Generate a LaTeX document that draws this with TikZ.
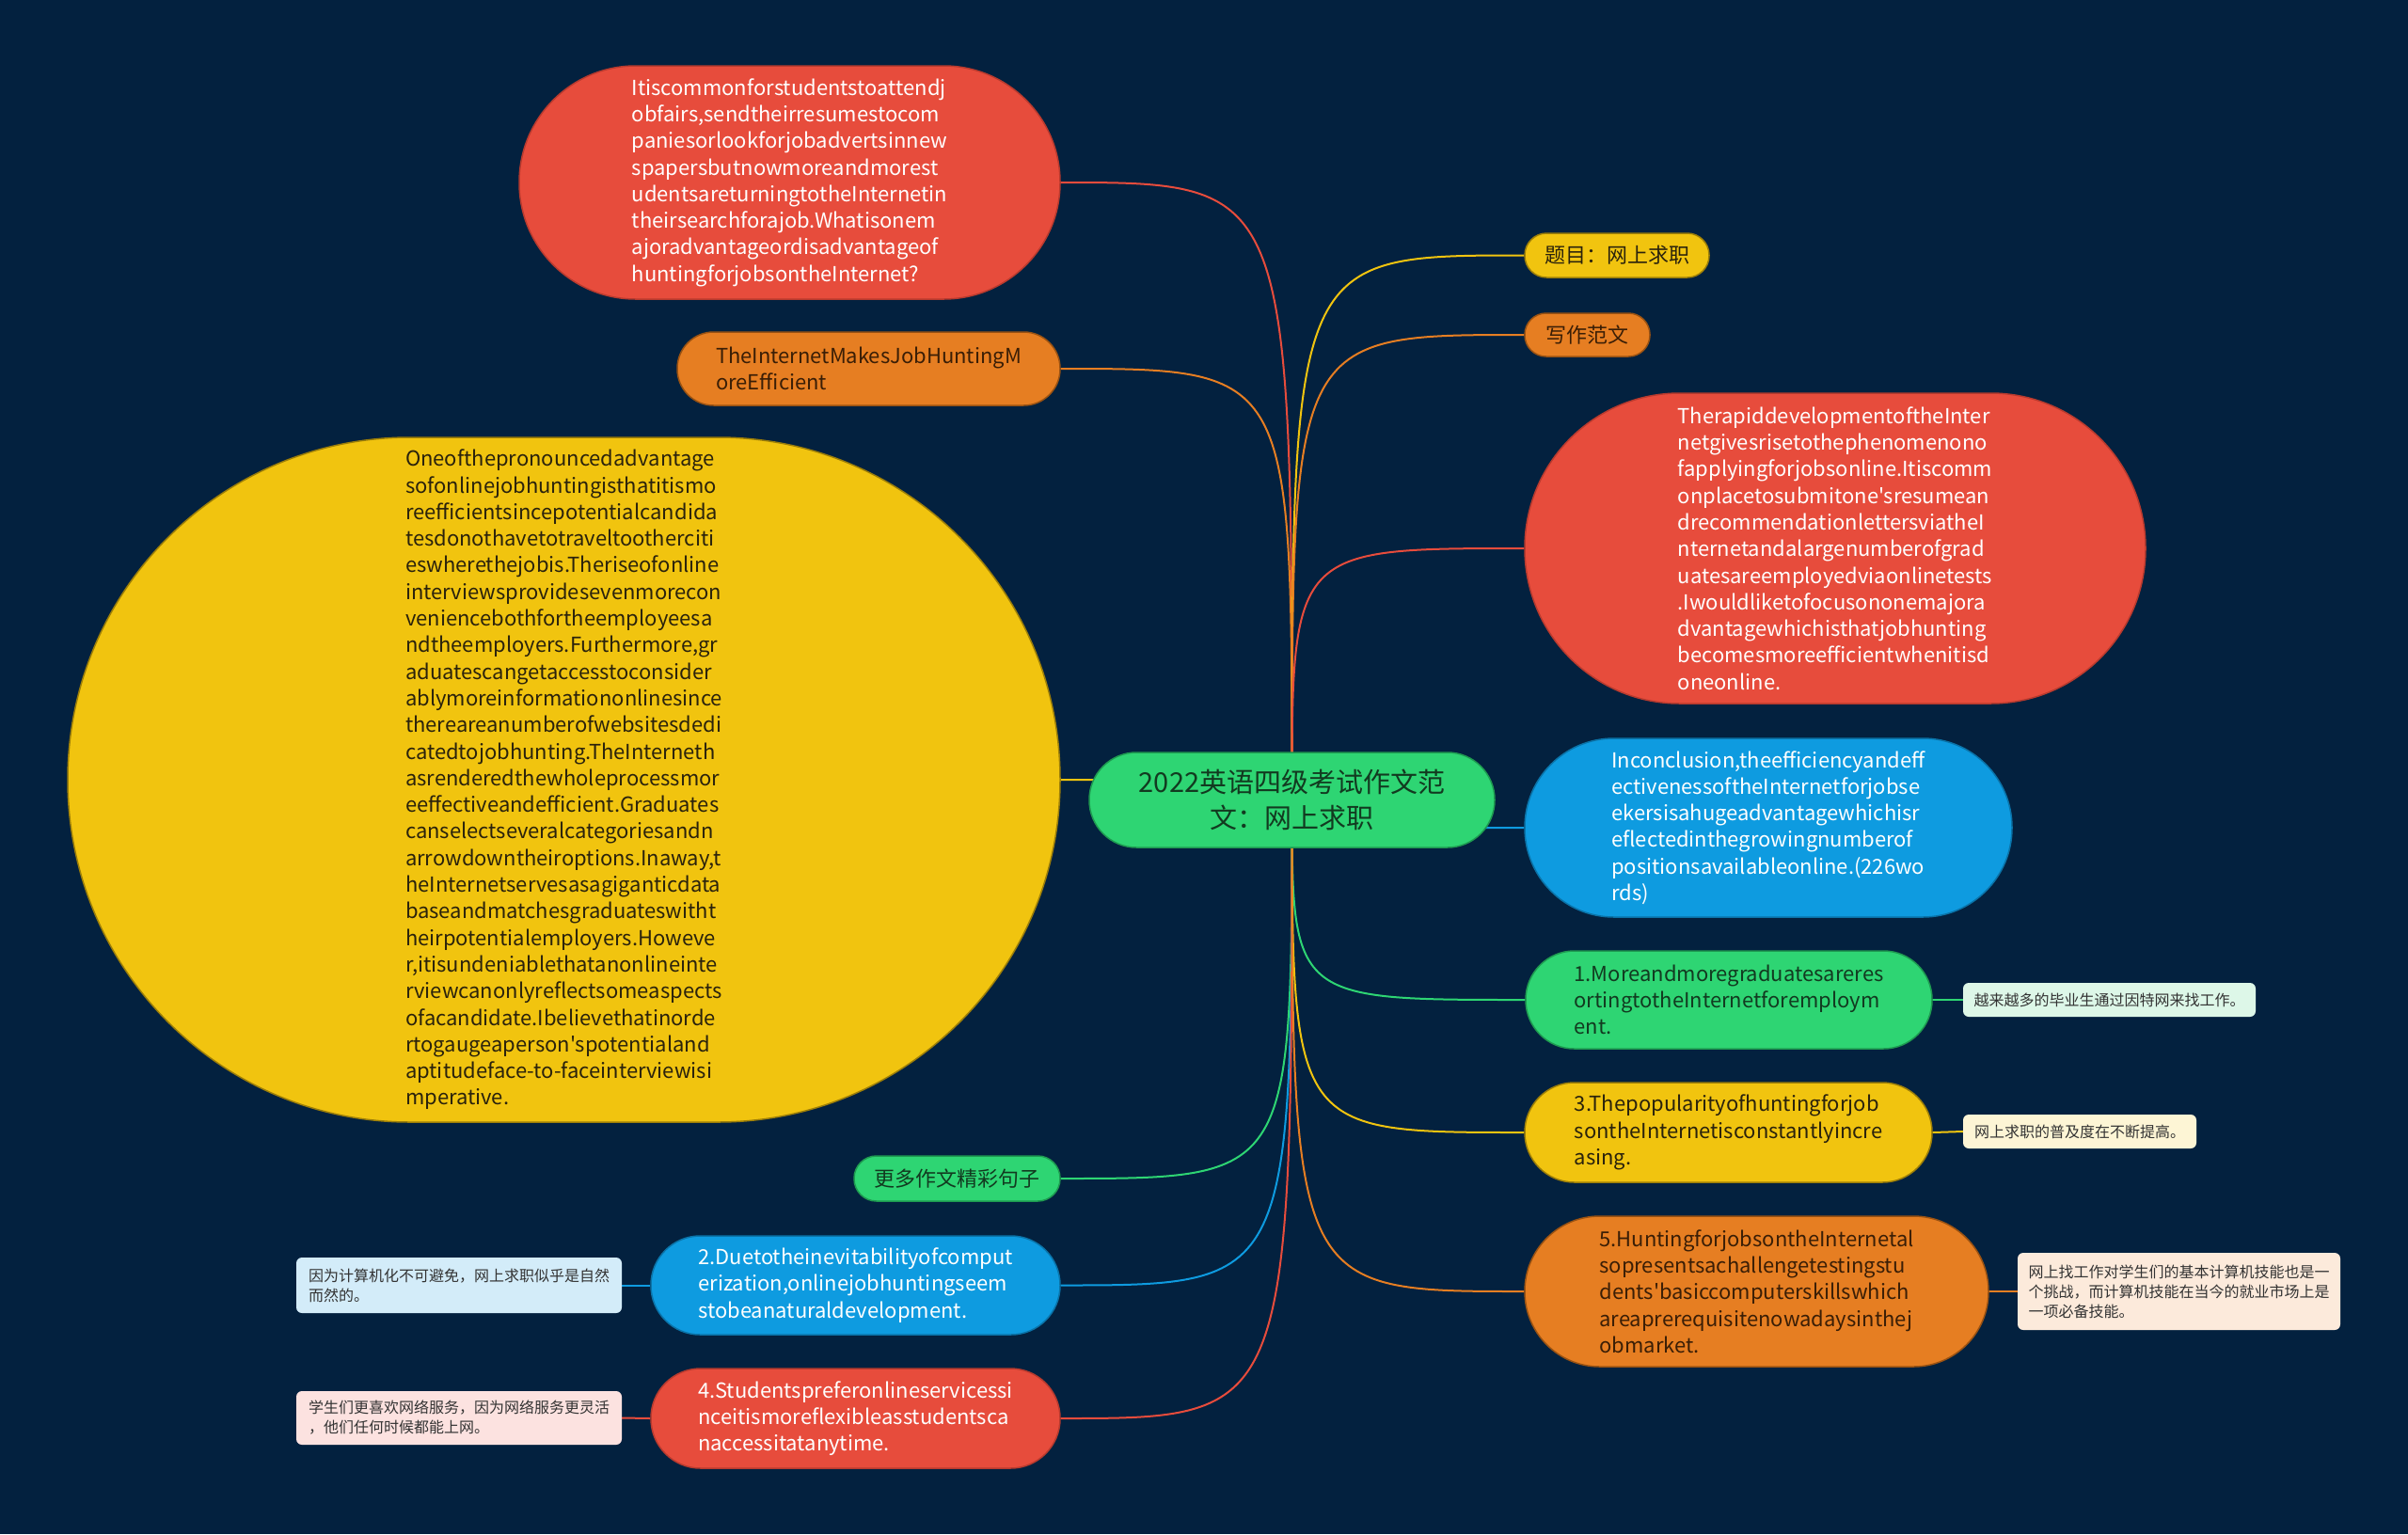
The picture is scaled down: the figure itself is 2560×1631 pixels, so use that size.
\documentclass[tikz,border=0pt]{standalone}
\usepackage{fontspec}
\newfontfamily\yh{Noto Sans CJK SC}
\definecolor{bgc}{HTML}{03213F}
\definecolor{cred}{HTML}{E74C3C}
\definecolor{corange}{HTML}{E67E22}
\definecolor{cyellow}{HTML}{F1C40F}
\definecolor{cgreen}{HTML}{2ED573}
\definecolor{cblue}{HTML}{0E9BE0}
\definecolor{dred}{HTML}{B83A2E}
\definecolor{dorange}{HTML}{9A5212}
\definecolor{dyellow}{HTML}{9C7E08}
\definecolor{dgreen}{HTML}{1E9A50}
\definecolor{dblue}{HTML}{0A73A8}
\definecolor{tdark}{HTML}{2A220C}
\definecolor{tbrown}{HTML}{3A1E06}
\definecolor{tgreen}{HTML}{123A20}
\definecolor{nblue}{HTML}{D3ECF9}
\definecolor{npink}{HTML}{FCE2E0}
\definecolor{nmint}{HTML}{DDF7E8}
\definecolor{ncream}{HTML}{FDF5D5}
\definecolor{npeach}{HTML}{FCEADB}
\pgfdeclarelayer{bg}
\pgfsetlayers{bg,main}
\tikzset{
  pillbox/.style={rectangle, rounded corners={#1*0.5pt-0.3pt}, minimum height=#1pt, inner sep=0pt, align=left, line width=1.5pt, font={\yh\fontsize{22pt}{28.3pt}\selectfont}},
  redn/.style={fill=cred, draw=dred, text=white},
  orangen/.style={fill=corange, draw=dorange, text=tbrown},
  yellown/.style={fill=cyellow, draw=dyellow, text=tdark},
  greenn/.style={fill=cgreen, draw=dgreen, text=tgreen},
  bluen/.style={fill=cblue, draw=dblue, text=white},
  notebox/.style={rectangle, rounded corners=6pt, inner sep=0pt, align=left, text=black!80, font={\yh\fontsize{16pt}{21pt}\selectfont}},
  link/.style={line width=2pt}
}
\begin{document}
\begin{tikzpicture}[x=1pt,y=-1pt]
\begin{pgfonlayer}{bg}
\fill[bgc] (0,0) rectangle (2560,1631);
\end{pgfonlayer}
\useasboundingbox (0,0) rectangle (2560,1631);

% center
\node[pillbox=101, greenn, minimum width=431pt, align=center, font={\yh\fontsize{29pt}{38pt}\selectfont}] (c) at (1373.5,850.5) {2022英语四级考试作文范\\文：网上求职};

% left side
\node[pillbox=248, redn, minimum width=575pt] (q) at (839.5,194) {Itiscommonforstudentstoattendj\\obfairs,sendtheirresumestocom\\paniesorlookforjobadvertsinnew\\spapersbutnowmoreandmorest\\udentsareturningtotheInternetin\\theirsearchforajob.Whatisonem\\ajoradvantageordisadvantageof\\huntingforjobsontheInternet?};
\node[pillbox=78, orangen, minimum width=407pt] (t) at (923.5,392) {TheInternetMakesJobHuntingM\\oreEfficient};
\node[pillbox=728, yellown, minimum width=1055pt] (y) at (599.5,829) {Oneofthepronouncedadvantage\\sofonlinejobhuntingisthatitismo\\reefficientsincepotentialcandida\\tesdonothavetotraveltootherciti\\eswherethejobis.Theriseofonline\\interviewsprovidesevenmorecon\\veniencebothfortheemployeesa\\ndtheemployers.Furthermore,gr\\aduatescangetaccesstoconsider\\ablymoreinformationonlinesince\\thereareanumberofwebsitesdedi\\catedtojobhunting.TheInterneth\\asrenderedthewholeprocessmor\\eeffectiveandefficient.Graduates\\canselectseveralcategoriesandn\\arrowdowntheiroptions.Inaway,t\\heInternetservesasagiganticdata\\baseandmatchesgraduateswitht\\heirpotentialemployers.Howeve\\r,itisundeniablethatanonlineinte\\rviewcanonlyreflectsomeaspects\\ofacandidate.Ibelievethatinorde\\rtogaugeaperson'spotentialand\\aptitudeface-to-faceinterviewisi\\mperative.};
\node[pillbox=48, greenn, minimum width=219pt] (m) at (1017.5,1253) {更多作文精彩句子};
\node[pillbox=105, bluen, minimum width=435pt] (b2) at (909.5,1366.5) {2.Duetotheinevitabilityofcomput\\erization,onlinejobhuntingseem\\stobeanaturaldevelopment.};
\node[notebox, fill=nblue, minimum width=346pt, minimum height=59pt] (n2) at (488,1366.5) {因为计算机化不可避免，网上求职似乎是自然\\而然的。};
\node[pillbox=106, redn, minimum width=435pt] (r4) at (909.5,1508) {4.Studentspreferonlineservicessi\\nceitismoreflexibleasstudentsca\\naccessitatanytime.};
\node[notebox, fill=npink, minimum width=346pt, minimum height=57pt] (n4) at (488,1507.5) {学生们更喜欢网络服务，因为网络服务更灵活\\，他们任何时候都能上网。};

% right side
\node[pillbox=47, yellown, minimum width=196pt] (ty) at (1719,271.5) {题目：网上求职};
\node[pillbox=46, orangen, minimum width=133pt] (ox) at (1687.5,356) {写作范文};
\node[pillbox=330, redn, minimum width=660pt] (rb) at (1951,583) {TherapiddevelopmentoftheInter\\netgivesrisetothephenomenono\\fapplyingforjobsonline.Itiscomm\\onplacetosubmitone'sresumean\\drecommendationlettersviatheI\\nternetandalargenumberofgrad\\uatesareemployedviaonlinetests\\.Iwouldliketofocusononemajora\\dvantagewhichisthatjobhunting\\becomesmoreefficientwhenitisd\\oneonline.};
\node[pillbox=190, bluen, minimum width=518pt] (bc) at (1880,880) {Inconclusion,theefficiencyandeff\\ectivenessoftheInternetforjobse\\ekersisahugeadvantagewhichisr\\eflectedinthegrowingnumberof\\positionsavailableonline.(226wo\\rds)};
\node[pillbox=104, greenn, minimum width=432pt] (g1) at (1838,1063) {1.Moreandmoregraduatesareres\\ortingtotheInternetforemploym\\ent.};
\node[notebox, fill=nmint, minimum width=311pt, minimum height=36pt] (n1) at (2242.5,1063) {越来越多的毕业生通过因特网来找工作。};
\node[pillbox=106, yellown, minimum width=433pt] (y3) at (1837.5,1204) {3.Thepopularityofhuntingforjob\\sontheInternetisconstantlyincre\\asing.};
\node[notebox, fill=ncream, minimum width=248pt, minimum height=36pt] (n3) at (2211,1203) {网上求职的普及度在不断提高。};
\node[pillbox=160, orangen, minimum width=493pt] (o5) at (1867.5,1373) {5.HuntingforjobsontheInternetal\\sopresentsachallengetestingstu\\dents'basiccomputerskillswhich\\areaprerequisitenowadaysinthej\\obmarket.};
\node[notebox, fill=npeach, minimum width=343pt, minimum height=82pt] (n5) at (2316.5,1373) {网上找工作对学生们的基本计算机技能也是一\\个挑战，而计算机技能在当今的就业市场上是\\一项必备技能。};

% connectors
\begin{pgfonlayer}{bg}
\draw[link, cred] (c.center) .. controls (c.center |- q.east) .. (q.east);
\draw[link, corange] (c.center) .. controls (c.center |- t.east) .. (t.east);
\draw[link, cyellow] (c.center) .. controls (c.center |- y.east) .. (y.east);
\draw[link, cgreen] (c.center) .. controls (c.center |- m.east) .. (m.east);
\draw[link, cblue] (c.center) .. controls (c.center |- b2.east) .. (b2.east);
\draw[link, cred] (c.center) .. controls (c.center |- r4.east) .. (r4.east);
\draw[link, cyellow] (c.center) .. controls (c.center |- ty.west) .. (ty.west);
\draw[link, corange] (c.center) .. controls (c.center |- ox.west) .. (ox.west);
\draw[link, cred] (c.center) .. controls (c.center |- rb.west) .. (rb.west);
\draw[link, cblue] (c.center) .. controls (c.center |- bc.west) .. (bc.west);
\draw[link, cgreen] (c.center) .. controls (c.center |- g1.west) .. (g1.west);
\draw[link, cyellow] (c.center) .. controls (c.center |- y3.west) .. (y3.west);
\draw[link, corange] (c.center) .. controls (c.center |- o5.west) .. (o5.west);
\draw[link, cblue] (b2.west) -- (n2.east);
\draw[link, cred] (r4.west) -- (n4.east);
\draw[link, cgreen] (g1.east) -- (n1.west);
\draw[link, cyellow] (y3.east) -- (n3.west);
\draw[link, corange] (o5.east) -- (n5.west);
\end{pgfonlayer}
\end{tikzpicture}
\end{document}
